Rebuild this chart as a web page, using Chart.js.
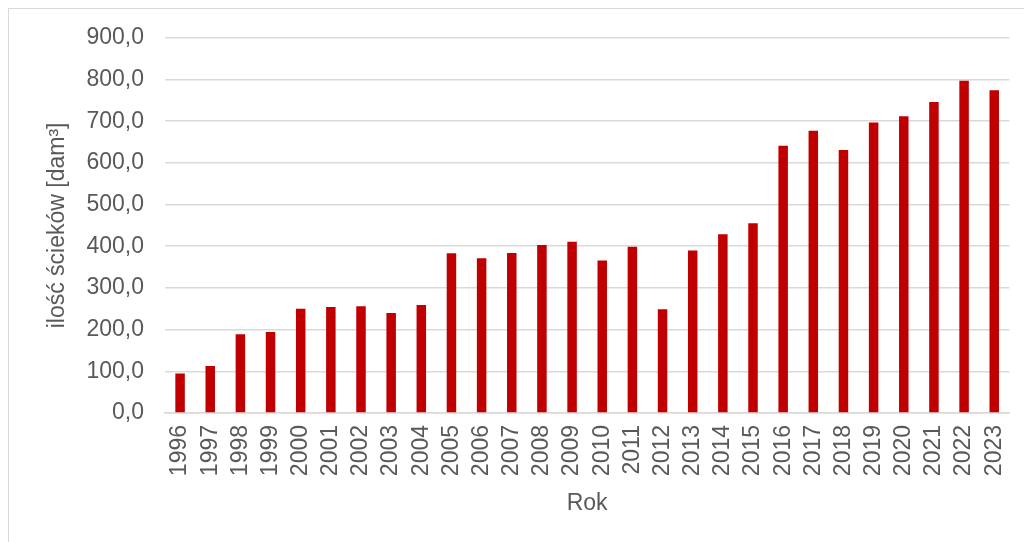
<!DOCTYPE html>
<html lang="pl">
<head>
<meta charset="utf-8">
<title>Ilość ścieków</title>
<script src="https://cdn.jsdelivr.net/npm/chart.js@4/dist/chart.umd.min.js"></script>
<style>
    html, body { margin: 0; padding: 0; background: #fff; overflow: hidden; }
    .frame {
        position: absolute; left: 8px; top: 8px; width: 1100px; height: 600px;
        border-left: 1px solid #d9d9d9; border-top: 1px solid #d9d9d9;
    }
    .wrap { position: absolute; left: 9px; top: 3px; width: 1025px; height: 539px; }
</style>
</head>
<body>
<div class="frame"></div>
<div class="wrap"><canvas id="chart"></canvas></div>
<script>
// years on x axis
const years = [
    "1996", "1997", "1998", "1999", "2000", "2001", "2002", "2003", "2004", "2005",
    "2006", "2007", "2008", "2009", "2010", "2011", "2012", "2013", "2014", "2015",
    "2016", "2017", "2018", "2019", "2020", "2021", "2022", "2023",
];

// wastewater volume, dam3
const volumes = [
    95, 113, 189, 194, 250, 254, 256, 240, 259, 383,
    371, 384, 403, 411, 366, 399, 249, 390, 429, 455,
    641, 677, 631, 697, 712, 746, 797, 774,
];

const yTicks = [0, 100, 200, 300, 400, 500, 600, 700, 800, 900];

const axisFont = { family: "'Liberation Sans', Arial, sans-serif", size: 23 };
const gray = "#595959";

const fmt = (v) => v.toFixed(1).replace(".", ",");

new Chart(document.getElementById("chart"), {
    type: "bar",
    data: {
        labels: years,
        datasets: [
            {
                label: "ilość ścieków",
                data: volumes,
                backgroundColor: "#c00000",
                borderWidth: 0,
                categoryPercentage: 0.63,
                barPercentage: 0.5,
            },
        ],
    },
    options: {
        responsive: true,
        maintainAspectRatio: false,
        animation: false,
        layout: { padding: { top: 24, right: 9, bottom: 0, left: 0 } },
        plugins: {
            legend: { display: false },
            tooltip: { enabled: false },
        },
        scales: {
            x: {
                grid: { display: false, drawTicks: false },
                border: { color: "#d9d9d9", width: 1.5 },
                ticks: {
                    color: gray,
                    font: axisFont,
                    minRotation: 90,
                    maxRotation: 90,
                    padding: 12,
                    autoSkip: false,
                },
                title: {
                    display: true,
                    text: "Rok",
                    color: gray,
                    font: axisFont,
                    padding: { top: 0, bottom: 25 },
                },
                afterFit: (axis) => { axis.height = 129; },
            },
            y: {
                min: 0,
                max: 900,
                afterBuildTicks: (axis) => {
                    axis.ticks = yTicks.map((v) => ({ value: v }));
                },
                grid: { color: "#d9d9d9", lineWidth: 1.5, drawTicks: false },
                border: { display: false },
                ticks: {
                    color: gray,
                    font: axisFont,
                    padding: 21,
                    callback: (v) => fmt(v),
                },
                title: {
                    display: true,
                    text: "ilość ścieków [dam³]",
                    color: gray,
                    font: axisFont,
                    padding: { top: 35, bottom: 0 },
                },
                afterFit: (axis) => { axis.width = 156; },
            },
        },
    },
});
</script>
</body>
</html>
